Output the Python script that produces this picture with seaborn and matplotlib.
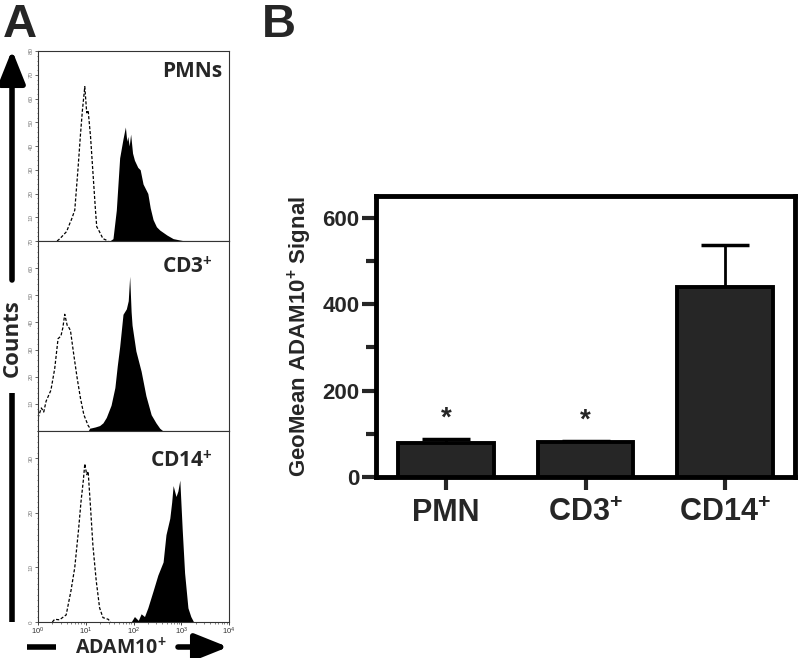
import numpy as np
import pandas as pd
import matplotlib
matplotlib.use('Agg')
import matplotlib.pyplot as plt
import seaborn as sns
from matplotlib.ticker import MultipleLocator, FixedLocator, LogLocator, NullFormatter

sns.set_style('ticks')
plt.rcParams['font.family'] = ['Liberation Sans', 'DejaVu Sans']
plt.rcParams['mathtext.fontset'] = 'custom'
plt.rcParams['mathtext.rm'] = 'Liberation Sans:bold'
plt.rcParams['mathtext.it'] = 'Liberation Sans:bold'
plt.rcParams['mathtext.bf'] = 'Liberation Sans:bold'

# ---------------- panel A data (log10 fluorescence, counts) ----------------
pmn_iso_log = [0.40, 0.46, 0.60, 0.67, 0.70, 0.77, 0.84, 0.89, 0.93, 0.98, 1.02,
               1.05, 1.10, 1.15, 1.20, 1.23, 1.26, 1.36, 1.47]
pmn_iso_cnt = [0, 1, 4, 7.6, 9, 13, 31, 45, 55, 65, 54, 55, 44, 29, 14, 6, 5, 1, 0]
pmn_pos_log = [1.50, 1.57, 1.64, 1.71, 1.78, 1.83, 1.86, 1.88, 1.91, 1.94, 1.98, 2.02,
               2.09, 2.14, 2.20, 2.30, 2.35, 2.41, 2.48, 2.55, 2.70, 2.83, 2.95, 3.08]
pmn_pos_cnt = [0, 1, 13, 35, 43, 48, 42, 44, 40, 45, 37, 34, 31, 30, 24, 20, 14, 9,
               6, 4.6, 2.5, 1, 0.5, 0]

cd3_iso_log = [0.0, 0.07, 0.12, 0.17, 0.27, 0.35, 0.42, 0.48, 0.52, 0.56, 0.61, 0.65,
               0.68, 0.75, 0.82, 0.89, 0.96, 1.05, 1.11, 1.15]
cd3_iso_cnt = [4.8, 8.5, 7, 11, 15, 23, 34, 35, 38, 43, 39, 38, 37, 28, 19.5, 12, 6,
               2, 0.5, 0]
cd3_pos_log = [1.05, 1.08, 1.20, 1.29, 1.36, 1.43, 1.53, 1.61, 1.66, 1.71, 1.78, 1.85,
               1.89, 1.92, 1.95, 1.97, 2.05, 2.16, 2.26, 2.37, 2.47, 2.55, 2.62]
cd3_pos_cnt = [0, 1, 1.5, 2, 3, 5, 9.5, 16, 24, 31, 43, 45, 48, 57, 44, 39, 29.5, 22,
               13, 6, 3, 1, 0]

cd14_iso_log = [0.30, 0.35, 0.45, 0.59, 0.69, 0.77, 0.85, 0.90, 0.95, 0.98, 1.02, 1.05,
                1.10, 1.15, 1.22, 1.29, 1.36, 1.47, 1.52]
cd14_iso_cnt = [0, 0.5, 0.4, 1.3, 5.7, 10, 17, 22, 26, 29, 27, 27.6, 21, 14, 7.5, 2.6,
                0.8, 0.5, 0]
cd14_pos_log = [1.95, 2.02, 2.10, 2.16, 2.23, 2.30, 2.41, 2.51, 2.62, 2.68, 2.76, 2.80,
                2.83, 2.89, 2.93, 2.97, 3.02, 3.07, 3.14, 3.20, 3.26]
cd14_pos_cnt = [0, 1, 0.3, 1.5, 1, 2.6, 5.7, 8.6, 11, 16, 19, 22, 25, 23, 24, 26, 17,
                9, 2.6, 1, 0]

hist_titles = ['PMNs', 'CD3$^{+}$', 'CD14$^{+}$']
hist_ymax = [80, 70, 35]
hist_yticks = [[10, 20, 30, 40, 50, 60, 70, 80],
               [10, 20, 30, 40, 50, 60, 70],
               [0, 10, 20, 30]]
x_tick_vals = [1, 10, 100, 1000, 10000]
x_tick_labels = ['$\\mathregular{10^{0}}$', '$\\mathregular{10^{1}}$', '$\\mathregular{10^{2}}$',
                 '$\\mathregular{10^{3}}$', '$\\mathregular{10^{4}}$']

# ---------------- panel B data ----------------
cells = ['PMN', 'CD3$^{+}$', 'CD14$^{+}$']
geo_mean = [79, 81, 440]
geo_sd = [9, 3, 97]
significant = [True, True, False]

A_FONT = ['Open Sans', 'Liberation Sans', 'DejaVu Sans']

fig = plt.figure(figsize=(8, 6.58), dpi=100)
W, H = 800, 658

def px_rect(x0, y0, x1, y1):
    return [x0 / W, 1 - y1 / H, (x1 - x0) / W, (y1 - y0) / H]

hist_sets = [
    (pmn_iso_log, pmn_iso_cnt, pmn_pos_log, pmn_pos_cnt),
    (cd3_iso_log, cd3_iso_cnt, cd3_pos_log, cd3_pos_cnt),
    (cd14_iso_log, cd14_iso_cnt, cd14_pos_log, cd14_pos_cnt),
]
panel_edges = [51, 241, 431, 622]
title_pos = [(0.963, 0.89), (0.916, 0.858), (0.916, 0.838)]

for i, (iso_l, iso_c, pos_l, pos_c) in enumerate(hist_sets):
    ax = fig.add_axes(px_rect(38, panel_edges[i], 229, panel_edges[i + 1]))
    iso_x = np.power(10.0, iso_l)
    pos_x = np.power(10.0, pos_l)
    ax.fill_between(pos_x, pos_c, 0, color='black', lw=0)
    sns.lineplot(x=iso_x, y=iso_c, ax=ax, color='black', lw=0.9,
                 linestyle=(0, (2.5, 1.5)), sort=False)
    ax.set_xscale('log')
    ax.set_xlim(1, 10000)
    ax.set_ylim(0, hist_ymax[i])
    ax.yaxis.set_major_locator(FixedLocator(hist_yticks[i]))
    ax.yaxis.set_minor_locator(MultipleLocator(2 if hist_ymax[i] > 40 else 1))
    ax.tick_params(axis='y', which='major', direction='out', length=2, width=0.5,
                   labelsize=4.5, labelcolor='#777777', pad=1, labelrotation=90)
    ax.tick_params(axis='y', which='minor', direction='out', length=1, width=0.4)
    for lab in ax.get_yticklabels():
        lab.set_va('center')
    ax.set_ylabel('')
    for sp in ax.spines.values():
        sp.set_linewidth(0.8)
        sp.set_color('#333333')
    if i < 2:
        ax.tick_params(axis='x', which='both', bottom=False, labelbottom=False)
    else:
        ax.xaxis.set_major_locator(FixedLocator(x_tick_vals))
        ax.set_xticklabels(x_tick_labels)
        ax.xaxis.set_minor_locator(LogLocator(base=10, subs=np.arange(2, 10)))
        ax.xaxis.set_minor_formatter(NullFormatter())
        ax.tick_params(axis='x', which='major', direction='out', length=2.5, width=0.6,
                       labelsize=5.5, pad=0.5, labelcolor='#333333')
        ax.tick_params(axis='x', which='minor', direction='out', length=1.5, width=0.4)
    ax.text(title_pos[i][0], title_pos[i][1], hist_titles[i], transform=ax.transAxes,
            ha='right', va='center', fontsize=15, fontweight='bold', family=A_FONT)

# ---------------- panel B ----------------
axB = fig.add_axes(px_rect(376, 196, 795, 477))
df = pd.DataFrame({'cell': cells, 'geo': geo_mean})
sns.barplot(data=df, x='cell', y='geo', ax=axB, color='#262626', saturation=1,
            edgecolor='black', linewidth=2.8, width=0.683, zorder=3)
axB.errorbar(range(len(cells)), geo_mean, yerr=[[0] * len(cells), geo_sd], fmt='none',
             ecolor='black', elinewidth=2, capsize=17, capthick=2.5, zorder=2)
for i, sig in enumerate(significant):
    if sig:
        axB.annotate('*', (i, geo_mean[i] + geo_sd[i]), xytext=(0, 5),
                     textcoords='offset points', ha='center', va='bottom',
                     fontsize=20, fontweight='bold')
axB.set_xlim(-0.5, 2.5)
axB.set_ylim(0, 650)
axB.yaxis.set_major_locator(MultipleLocator(200))
axB.yaxis.set_minor_locator(MultipleLocator(100))
axB.tick_params(axis='y', which='major', direction='out', length=10, width=3,
                labelsize=16, pad=2)
axB.tick_params(axis='y', which='minor', direction='out', length=7, width=3)
axB.tick_params(axis='x', direction='out', length=9, width=3, labelsize=22, pad=6)
for lab in axB.get_yticklabels() + axB.get_xticklabels():
    lab.set_fontweight('bold')
axB.set_xlabel('')
axB.set_ylabel('GeoMean ADAM10$^{+}$ Signal', fontsize=16, fontweight='bold', labelpad=6)
for sp in axB.spines.values():
    sp.set_linewidth(3.5)
    sp.set_color('black')
    sp.set_visible(True)

# ---------------- overlay: letters and arrows ----------------
ov = fig.add_axes([0, 0, 1, 1], facecolor='none')
ov.set_xlim(0, W)
ov.set_ylim(H, 0)
ov.axis('off')
ov.text(3, 3, 'A', fontsize=34, fontweight='bold', ha='left', va='top')
ov.text(262, 3, 'B', fontsize=34, fontweight='bold', ha='left', va='top')

arrow_kw = dict(arrowstyle='-|>,head_length=1.0,head_width=0.4', lw=4, color='black',
                shrinkA=0, shrinkB=0, mutation_scale=20)
ov.plot([12, 12], [622, 393], color='black', lw=4, solid_capstyle='butt')
ov.annotate('', xy=(12, 50), xytext=(12, 280), arrowprops=arrow_kw)
ov.text(12, 338, 'Counts', rotation=90, ha='center', va='center', fontsize=16,
        fontweight='bold', family=A_FONT)
ov.plot([27, 56], [647, 647], color='black', lw=4, solid_capstyle='butt')
ov.annotate('', xy=(228, 647), xytext=(178, 647), arrowprops=arrow_kw)
ov.text(121, 647, 'ADAM10$^{+}$', ha='center', va='center', fontsize=14,
        fontweight='bold', family=A_FONT)

fig.savefig('out.png', dpi=100)
